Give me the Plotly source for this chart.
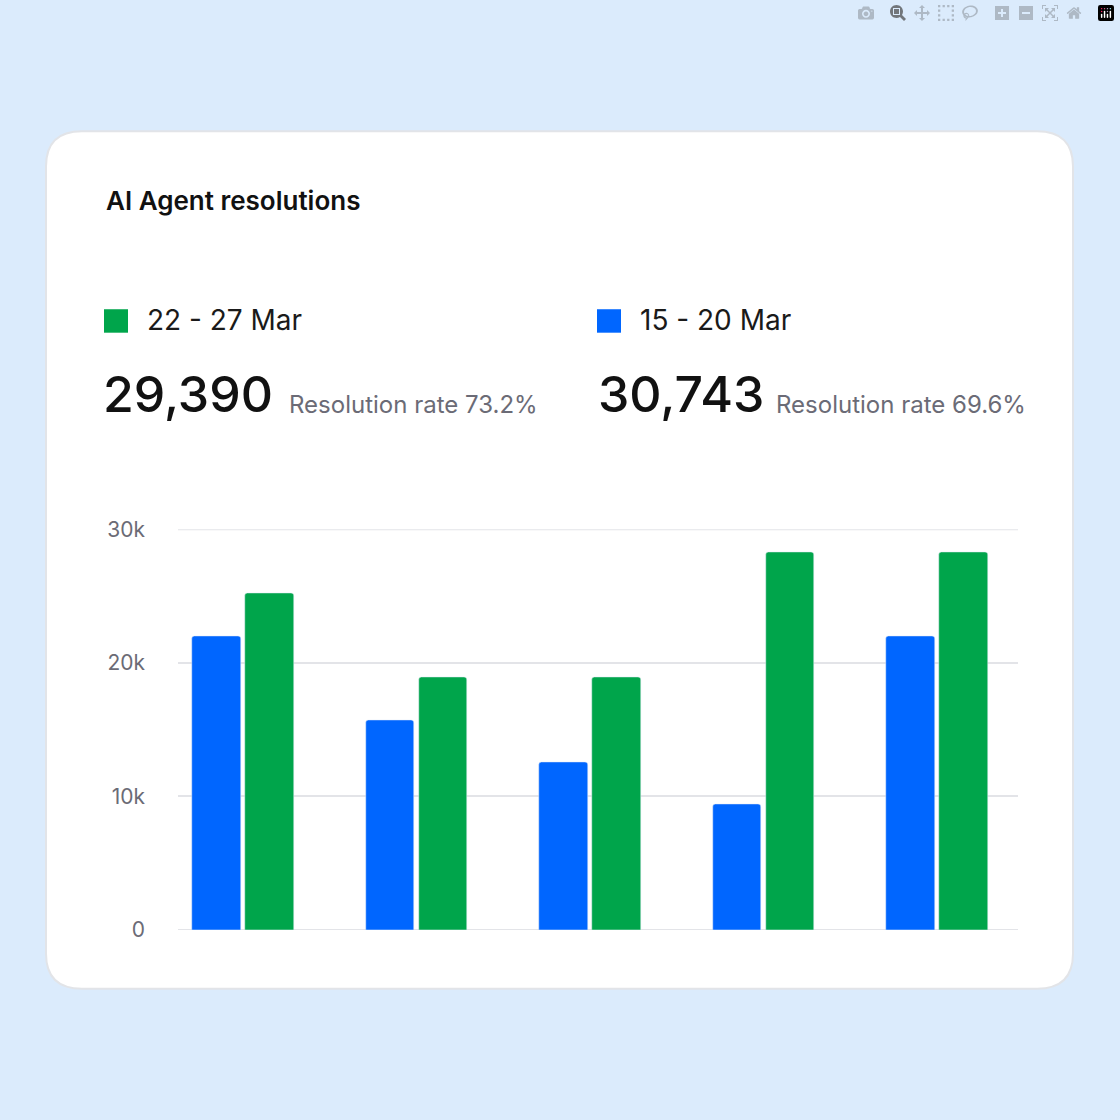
import plotly.graph_objects as go

groups = [0, 1, 2, 3, 4]
prev_week = [22000, 15700, 12550, 9400, 22000]   # 15 - 20 Mar (blue)
this_week = [25200, 18900, 18900, 28300, 28300]  # 22 - 27 Mar (green)
tick_vals = [0, 10000, 20000, 30000]
tick_text = ["0", "10k", "20k", "30k"]

W = H = 1120
def px(x): return x / W
def py(y): return 1 - y / H

BLUE = "#0066FF"
GREEN = "#00A54B"
GRID = "#E3E4E8"

fig = go.Figure()
fig.add_bar(x=groups, y=prev_week, name="15 - 20 Mar", marker_color=BLUE,
            width=0.28, offset=-0.294, marker_cornerradius=3)
fig.add_bar(x=groups, y=this_week, name="22 - 27 Mar", marker_color=GREEN,
            width=0.28, offset=0.012, marker_cornerradius=3)

x0, y0, x1, y1, r = 46, 121, 1073, 998, 36
path = (f"M {px(x0+r)},{py(y0)} L {px(x1-r)},{py(y0)} "
        f"Q {px(x1)},{py(y0)} {px(x1)},{py(y0+r)} L {px(x1)},{py(y1-r)} "
        f"Q {px(x1)},{py(y1)} {px(x1-r)},{py(y1)} L {px(x0+r)},{py(y1)} "
        f"Q {px(x0)},{py(y1)} {px(x0)},{py(y1-r)} L {px(x0)},{py(y0+r)} "
        f"Q {px(x0)},{py(y0)} {px(x0+r)},{py(y0)} Z")
shapes = [
    dict(type="path", xref="paper", yref="paper", path=path,
         fillcolor="white", line=dict(color="#E2E4E8", width=2), layer="below"),
    dict(type="rect", xref="paper", yref="paper", x0=px(104), x1=px(128),
         y0=py(327), y1=py(303), fillcolor=GREEN, line_width=0),
    dict(type="rect", xref="paper", yref="paper", x0=px(597), x1=px(621),
         y0=py(327), y1=py(303), fillcolor=BLUE, line_width=0),
]
for v in (tick_vals[0], tick_vals[-1]):
    shapes.append(dict(type="line", xref="x domain", yref="y", x0=0, x1=1, y0=v, y1=v,
                       line=dict(color=GRID, width=2), layer="below"))

def ann(x, y, text, size, color="#111111", weight="normal"):
    return dict(xref="paper", yref="paper", x=px(x), y=py(y), text=text,
                showarrow=False, xanchor="left", yanchor="middle",
                font=dict(size=size, color=color, family="Inter", weight=weight))

annotations = [
    ann(104, 192, "AI Agent resolutions", 26, weight=600),
    ann(145, 314, "22 - 27 Mar", 28, "#1a1a1a"),
    ann(638, 314, "15 - 20 Mar", 28, "#1a1a1a"),
    ann(101, 390, "29,390", 50, "#111111", 500),
    ann(287, 400, "Resolution rate 73.2%", 24, "#6B6B76"),
    ann(596, 390, "30,743", 50, "#111111", 500),
    ann(774, 400, "Resolution rate 69.6%", 24, "#6B6B76"),
]

fig.update_layout(
    width=W, height=H, margin=dict(l=0, r=0, t=0, b=0),
    paper_bgcolor="#DBEBFC", plot_bgcolor="rgba(0,0,0,0)",
    barmode="overlay", showlegend=False, bargap=0,
    shapes=shapes, annotations=annotations,
    font=dict(family="Inter"),
    xaxis=dict(domain=[px(178), px(1018)], range=[-0.375, 4.467],
               showticklabels=False, showgrid=False, zeroline=False),
    yaxis=dict(domain=[py(938), py(528)], range=[0, 30000],
               tickvals=tick_vals, ticktext=tick_text,
               tickfont=dict(size=21, color="#6B6B76", family="Inter"),
               gridcolor=GRID, gridwidth=2, zeroline=False, ticklabelstandoff=32),
)
fig.write_html("out.html",
               post_script="document.body.style.margin='0';document.body.style.background='#DBEBFC';")
